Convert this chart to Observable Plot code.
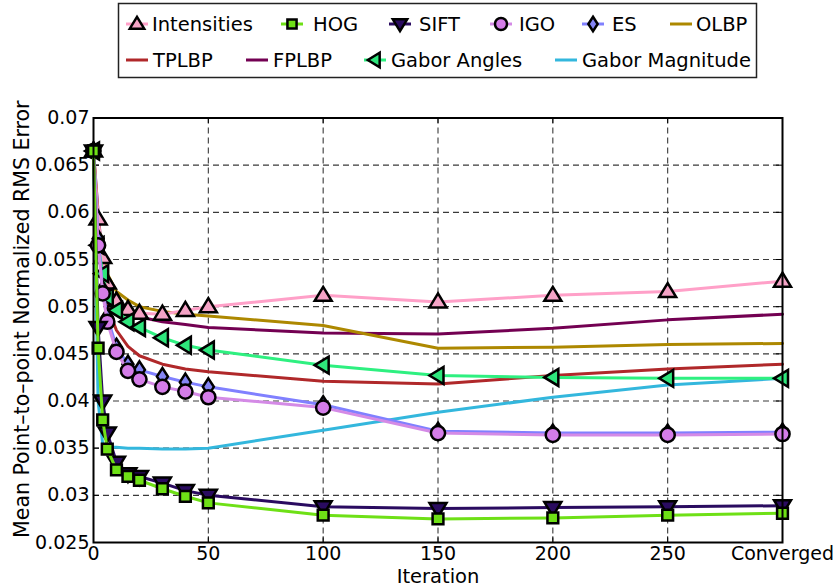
<!DOCTYPE html>
<html>
<head>
<meta charset="utf-8">
<script src="https://cdn.jsdelivr.net/npm/d3@7"></script>
<script src="https://cdn.jsdelivr.net/npm/@observablehq/plot@0.6"></script>
<style>
  body { margin: 0; background: #fff; font-family: "DejaVu Sans", sans-serif; }
  svg { display: block; }
</style>
</head>
<body>
<div id="chart"></div>
<script>
// Fitting iterations; the last one stands for the converged result.
const iterations = [0, 2, 4, 6, 10, 15, 20, 30, 40, 50, 100, 150, 200, 250, 300];

// Mean point-to-point normalized RMS error per feature type.
const intensities    = [0.0665, 0.0593, 0.0552, 0.0525, 0.0506, 0.0497, 0.0493, 0.0492, 0.0496, 0.0500, 0.0512, 0.0505, 0.0512, 0.0516, 0.0527];
const hog            = [0.0665, 0.0456, 0.0380, 0.0349, 0.0327, 0.0320, 0.0316, 0.0307, 0.0299, 0.0292, 0.0279, 0.0275, 0.0276, 0.0279, 0.0281];
const sift           = [0.0665, 0.0478, 0.0400, 0.0366, 0.0335, 0.0323, 0.0320, 0.0313, 0.0305, 0.0300, 0.0288, 0.0286, 0.0287, 0.0288, 0.0289];
const igo            = [0.0665, 0.0565, 0.0514, 0.0484, 0.0452, 0.0432, 0.0423, 0.0415, 0.0410, 0.0404, 0.0393, 0.0366, 0.0364, 0.0364, 0.0365];
const es             = [0.0665, 0.0572, 0.0518, 0.0489, 0.0457, 0.0439, 0.0433, 0.0426, 0.0420, 0.0415, 0.0396, 0.0368, 0.0366, 0.0366, 0.0367];
const olbp           = [0.0665, 0.0590, 0.0556, 0.0535, 0.0516, 0.0507, 0.0500, 0.0495, 0.0492, 0.0490, 0.0480, 0.0456, 0.0457, 0.0460, 0.0461];
const tplbp          = [0.0665, 0.0580, 0.0530, 0.0500, 0.0475, 0.0458, 0.0448, 0.0439, 0.0434, 0.0431, 0.0421, 0.0418, 0.0427, 0.0434, 0.0439];
const fplbp          = [0.0665, 0.0600, 0.0546, 0.0521, 0.0503, 0.0494, 0.0489, 0.0484, 0.0481, 0.0478, 0.0472, 0.0471, 0.0477, 0.0486, 0.0492];
const gaborAngles    = [0.0665, 0.0565, 0.0535, 0.0510, 0.0496, 0.0484, 0.0478, 0.0467, 0.0459, 0.0454, 0.0438, 0.0427, 0.0425, 0.0424, 0.0424];
const gaborMagnitude = [0.0665, 0.0400, 0.0354, 0.0351, 0.0351, 0.0350, 0.0350, 0.0349, 0.0349, 0.0350, 0.0369, 0.0388, 0.0404, 0.0417, 0.0424];

// Axis ticks.
const xTickValues = [0, 50, 100, 150, 200, 250, 300];
const xTickLabels = ["0", "50", "100", "150", "200", "250", "Converged"];
const yTickValues = [0.025, 0.03, 0.035, 0.04, 0.045, 0.05, 0.055, 0.06, 0.065, 0.07];

// Marker shapes, drawn in pixels (Plot passes size = π·r², so r = 1 gives k = 1).
const poly = pts => ({
  draw(ctx, size) {
    const k = Math.sqrt(size / Math.PI);
    ctx.moveTo(pts[0][0] * k, pts[0][1] * k);
    for (let i = 1; i < pts.length; ++i) ctx.lineTo(pts[i][0] * k, pts[i][1] * k);
    ctx.closePath();
  }
});
const symbols = {
  up: poly([[0, -8.5], [8.5, 5.5], [-8.5, 5.5]]),
  down: poly([[-8.5, -5.5], [8.5, -5.5], [0, 8.5]]),
  left: poly([[-8.5, 0], [5.5, -8.5], [5.5, 8.5]]),
  square: poly([[-5.4, -5.4], [5.4, -5.4], [5.4, 5.4], [-5.4, 5.4]]),
  diamond: poly([[0, -8.5], [5.5, 0], [0, 8.5], [-5.5, 0]]),
  circle: {
    draw(ctx, size) {
      const r = 7.1 * Math.sqrt(size / Math.PI);
      ctx.moveTo(r, 0);
      ctx.arc(0, 0, r, 0, 2 * Math.PI);
    }
  }
};

// Series in drawing order (later ones sit on top).
const series = [
  {name: "Gabor Magnitude", values: gaborMagnitude, color: "#33b7dd"},
  {name: "FPLBP", values: fplbp, color: "#730052"},
  {name: "TPLBP", values: tplbp, color: "#b0282a"},
  {name: "OLBP", values: olbp, color: "#ad8800"},
  {name: "Intensities", values: intensities, color: "#ffa0c8", fill: "#f5a3c6", symbol: "up"},
  {name: "Gabor Angles", values: gaborAngles, color: "#2ef080", fill: "#2ee67c", symbol: "left"},
  {name: "ES", values: es, color: "#8080ff", fill: "#8585f5", symbol: "diamond"},
  {name: "IGO", values: igo, color: "#d48ae6", fill: "#d47de8", symbol: "circle"},
  {name: "SIFT", values: sift, color: "#2a0b60", fill: "#2a0b60", symbol: "down"},
  {name: "HOG", values: hog, color: "#6ee016", fill: "#6ee016", symbol: "square"}
];
const rows = s => iterations.map((x, i) => ({x, y: s.values[i]}));

// Legend entries: symbol centre and text start in legend pixels.
const legendOrder = [
  {name: "Intensities", row: 0, cx: 137, tx: 152},
  {name: "HOG", row: 0, cx: 292, tx: 313},
  {name: "SIFT", row: 0, cx: 400, tx: 419},
  {name: "IGO", row: 0, cx: 501, tx: 519},
  {name: "ES", row: 0, cx: 593, tx: 612},
  {name: "OLBP", row: 0, cx: 681, tx: 696},
  {name: "TPLBP", row: 1, cx: 137, tx: 153},
  {name: "FPLBP", row: 1, cx: 257, tx: 273},
  {name: "Gabor Angles", row: 1, cx: 375, tx: 391},
  {name: "Gabor Magnitude", row: 1, cx: 566, tx: 582}
];

const root = document.getElementById("chart");

// Legend box above the plot.
const legend = d3.create("svg").attr("width", 837).attr("height", 82);
legend.append("rect")
  .attr("x", 118.5).attr("y", 3.5).attr("width", 638).attr("height", 74)
  .attr("fill", "#fff").attr("stroke", "#222").attr("stroke-width", 1.5);
const rowY = [24, 60];
for (const item of legendOrder) {
  const s = series.find(d => d.name === item.name);
  const y = rowY[item.row];
  const g = legend.append("g");
  g.append("line")
    .attr("x1", item.cx - 11).attr("x2", item.cx + 11)
    .attr("y1", y).attr("y2", y)
    .attr("stroke", s.color).attr("stroke-width", 3);
  if (s.symbol) {
    g.append("path")
      .attr("transform", `translate(${item.cx},${y})`)
      .attr("d", d3.symbol(symbols[s.symbol], Math.PI * 0.72)())
      .attr("fill", s.fill).attr("stroke", "#000").attr("stroke-width", 2.5);
  }
  g.append("text")
    .attr("x", item.tx).attr("y", y).attr("dy", "0.35em")
    .attr("font-family", "DejaVu Sans, sans-serif").attr("font-size", 19.5)
    .text(item.name);
}
root.append(legend.node());

const marks = [
  // dashed grid
  Plot.ruleY(yTickValues.slice(1, -1), {y: d => d, stroke: "#3a3a3a", strokeWidth: 1.1, strokeDasharray: "6,4"}),
  Plot.ruleX(xTickValues.slice(1, -1), {x: d => d, stroke: "#3a3a3a", strokeWidth: 1.1, strokeDasharray: "6,4"}),
  // inward ticks
  Plot.ruleY(yTickValues, {y: d => d, x1: 0, x2: 2.6, stroke: "#000", strokeWidth: 1}),
  Plot.ruleY(yTickValues, {y: d => d, x1: 297.4, x2: 300, stroke: "#000", strokeWidth: 1}),
  Plot.ruleX(xTickValues, {x: d => d, y1: 0.025, y2: 0.0256, stroke: "#000", strokeWidth: 1}),
  Plot.ruleX(xTickValues, {x: d => d, y1: 0.0694, y2: 0.07, stroke: "#000", strokeWidth: 1})
];
for (const s of series) {
  const data = rows(s);
  marks.push(Plot.line(data, {x: "x", y: "y", stroke: s.color, strokeWidth: 3, strokeLinejoin: "round"}));
  if (s.symbol) {
    marks.push(Plot.dot(data, {x: "x", y: "y", r: 1, symbol: symbols[s.symbol], fill: s.fill, stroke: "#000", strokeWidth: 2.5}));
  }
}
marks.push(
  Plot.frame({stroke: "#000", strokeWidth: 2}),
  Plot.axisY(yTickValues, {tickSize: 0, tickPadding: 4, tickFormat: d => String(d), fontSize: 19}),
  Plot.axisX(xTickValues, {tickSize: 0, tickPadding: 4, tickFormat: d => xTickLabels[xTickValues.indexOf(d)], fontSize: 19}),
  Plot.text(["Mean Point–to–point Normalized RMS Error"], {
    frameAnchor: "left", rotate: -90, textAnchor: "middle", lineAnchor: "middle",
    dx: -71, dy: -11, fontSize: 20.5, fill: "#000"
  }),
  Plot.text(["Iteration"], {frameAnchor: "bottom", lineAnchor: "middle", dy: 34, fontSize: 19.5, fill: "#000"})
);

const chart = Plot.plot({
  width: 837,
  height: 506,
  marginTop: 35.5,
  marginBottom: 46,
  marginLeft: 93,
  marginRight: 55,
  style: {fontFamily: "DejaVu Sans, sans-serif", color: "#000", background: "#fff", overflow: "visible"},
  x: {domain: [0, 300], label: null},
  y: {domain: [0.025, 0.07], label: null},
  marks
});
root.append(chart);
</script>
</body>
</html>
